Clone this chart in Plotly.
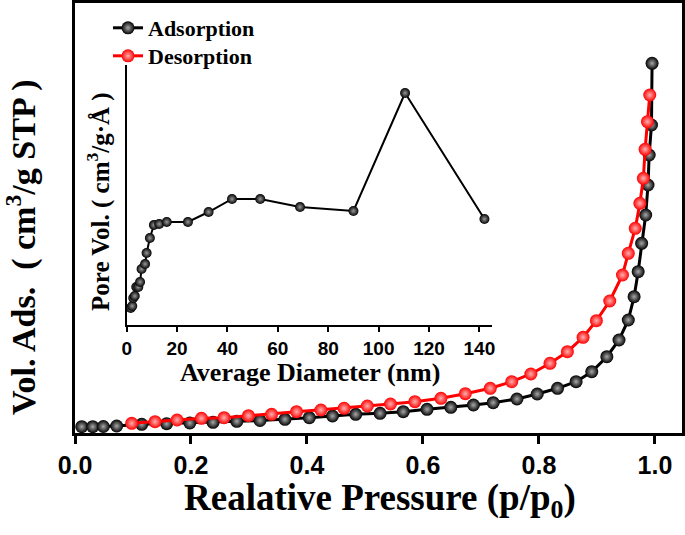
import plotly.graph_objects as go

# ---------------- data ----------------
ads_p = [0.0116, 0.0305, 0.0488, 0.0719, 0.115, 0.158, 0.198, 0.238, 0.279, 0.319,
         0.362, 0.404, 0.444, 0.484, 0.526, 0.566, 0.607, 0.648, 0.687, 0.721,
         0.762, 0.797, 0.832, 0.864, 0.891, 0.917, 0.938, 0.954, 0.964, 0.971,
         0.977, 0.984, 0.988, 0.990, 0.994, 0.995]
ads_v = [6.3, 6.3, 6.5, 7.0, 8.7, 9.3, 10.0, 10.7, 11.7, 12.5,
         13.7, 15.3, 17.0, 18.7, 19.7, 21.3, 23.7, 25.7, 28.0, 30.3,
         34.0, 39.0, 44.7, 51.3, 61.3, 76.3, 93.0, 113.0, 136.3, 161.3,
         189.7, 218.0, 248.0, 278.0, 308.0, 369.7]

des_p = [0.0978, 0.138, 0.176, 0.218, 0.257, 0.299, 0.339, 0.382, 0.424, 0.464,
         0.504, 0.544, 0.586, 0.631, 0.673, 0.716, 0.753, 0.786, 0.819, 0.849,
         0.876, 0.899, 0.922, 0.944, 0.954, 0.966, 0.974, 0.980, 0.983, 0.987,
         0.991]
des_v = [9.7, 11.3, 13.0, 14.7, 15.3, 17.3, 18.7, 21.3, 23.0, 24.7,
         27.0, 29.0, 31.3, 34.7, 39.3, 44.7, 51.3, 59.0, 69.7, 81.3,
         95.7, 112.3, 132.0, 158.0, 179.7, 204.7, 229.7, 254.7, 283.7, 311.3,
         338.0]

psd_d = [1.6, 2.2, 2.6, 3.2, 3.8, 4.6, 5.3, 5.9, 7.3, 7.9, 9.2, 10.8, 12.9, 15.9,
         24.3, 32.5, 41.8, 53.0, 68.8, 90.0, 110.5, 142.0]
psd_v = [0.17, 0.19, 0.27, 0.29, 0.38, 0.38, 0.43, 0.56, 0.61, 0.72, 0.87, 1.00,
         1.01, 1.03, 1.03, 1.13, 1.26, 1.26, 1.18, 1.14, 2.32, 1.06]

main_tickvals = [0.0, 0.2, 0.4, 0.6, 0.8, 1.0]
main_ticktext = ["0.0", "0.2", "0.4", "0.6", "0.8", "1.0"]
inset_tickvals = [0, 20, 40, 60, 80, 100, 120, 140]

W, H = 685, 535
SERIF = "Liberation Serif"
SANS = "Liberation Sans"


def fx(p):
    return p / W


def fy(p):
    return 1 - p / H


fig = go.Figure()
fig.add_trace(go.Scatter(
    x=ads_p, y=ads_v, mode="lines+markers", name="Adsorption", legend="legend",
    line=dict(color="black", width=3),
    marker=dict(size=13, color="black",
                gradient=dict(type="radial", color="#a8a8a8")),
    xaxis="x", yaxis="y"))
fig.add_trace(go.Scatter(
    x=des_p, y=des_v, mode="lines+markers", name="Desorption", legend="legend2",
    line=dict(color="#ff0000", width=3),
    marker=dict(size=13, color="#ff0000",
                gradient=dict(type="radial", color="#ffb0b0")),
    xaxis="x", yaxis="y"))
fig.add_trace(go.Scatter(
    x=psd_d, y=psd_v, mode="lines+markers", showlegend=False,
    line=dict(color="black", width=2),
    marker=dict(size=10, color="black",
                gradient=dict(type="radial", color="#999999")),
    xaxis="x2", yaxis="y2"))

legend_font = dict(family=SERIF, size=22, color="black", weight="bold")

fig.update_layout(
    template="none",
    width=W, height=H,
    margin=dict(l=0, r=0, t=0, b=0, pad=0, autoexpand=False),
    paper_bgcolor="white", plot_bgcolor="rgba(0,0,0,0)",
    xaxis=dict(domain=[fx(75), fx(682)], range=[0, 1.0466], automargin=False,
               showline=True, linewidth=3, linecolor="black", mirror=True,
               ticks="outside", ticklen=8, tickwidth=3, tickcolor="black",
               tickvals=main_tickvals, ticktext=main_ticktext,
               tickfont=dict(family=SANS, size=25, color="black", weight="bold"),
               showgrid=False, zeroline=False),
    yaxis=dict(domain=[fy(433), fy(3)], range=[0, 430], automargin=False,
               showline=True, linewidth=3, linecolor="black", mirror=True,
               showticklabels=False, ticks="", showgrid=False, zeroline=False),
    xaxis2=dict(domain=[fx(126.7), fx(492)], range=[0, 145], anchor="y2",
                automargin=False,
                showline=True, linewidth=2, linecolor="black",
                ticks="outside", ticklen=5, tickwidth=2, tickcolor="black",
                tickvals=inset_tickvals,
                tickfont=dict(family=SANS, size=19, color="black", weight="bold"),
                showgrid=False, zeroline=False),
    yaxis2=dict(domain=[fy(325), fy(65)], range=[0, 2.6], anchor="x2",
                automargin=False,
                showline=True, linewidth=2, linecolor="black",
                showticklabels=False, ticks="", showgrid=False, zeroline=False),
    legend=dict(x=fx(108), xanchor="left", y=fy(28), yanchor="middle",
                bgcolor="rgba(0,0,0,0)", borderwidth=0, font=legend_font),
    legend2=dict(x=fx(108), xanchor="left", y=fy(56), yanchor="middle",
                 bgcolor="rgba(0,0,0,0)", borderwidth=0, font=legend_font),
    annotations=[
        dict(text="Realative Pressure (p/p<sub>0</sub>)", x=fx(380), y=fy(500),
             xref="paper", yref="paper", showarrow=False,
             xanchor="center", yanchor="middle",
             font=dict(family=SERIF, size=37, color="black", weight="bold")),
        dict(text="Vol. Ads.  ( cm<sup>3</sup>/g STP )", x=fx(21), y=fy(247),
             xref="paper", yref="paper", showarrow=False, textangle=-90,
             xanchor="center", yanchor="middle",
             font=dict(family=SERIF, size=34, color="black", weight="bold")),
        dict(text="Average Diameter (nm)", x=fx(310), y=fy(372),
             xref="paper", yref="paper", showarrow=False,
             xanchor="center", yanchor="middle",
             font=dict(family=SERIF, size=26, color="black", weight="bold")),
        dict(text="Pore Vol. ( cm<sup>3</sup>/g·Å )", x=fx(98), y=fy(201),
             xref="paper", yref="paper", showarrow=False, textangle=-90,
             xanchor="center", yanchor="middle",
             font=dict(family=SERIF, size=25, color="black", weight="bold")),
    ],
)

fig.write_html("out.html",
               config={"displayModeBar": False},
               post_script="document.body.style.margin='0';"
                           "document.body.style.padding='0';")
